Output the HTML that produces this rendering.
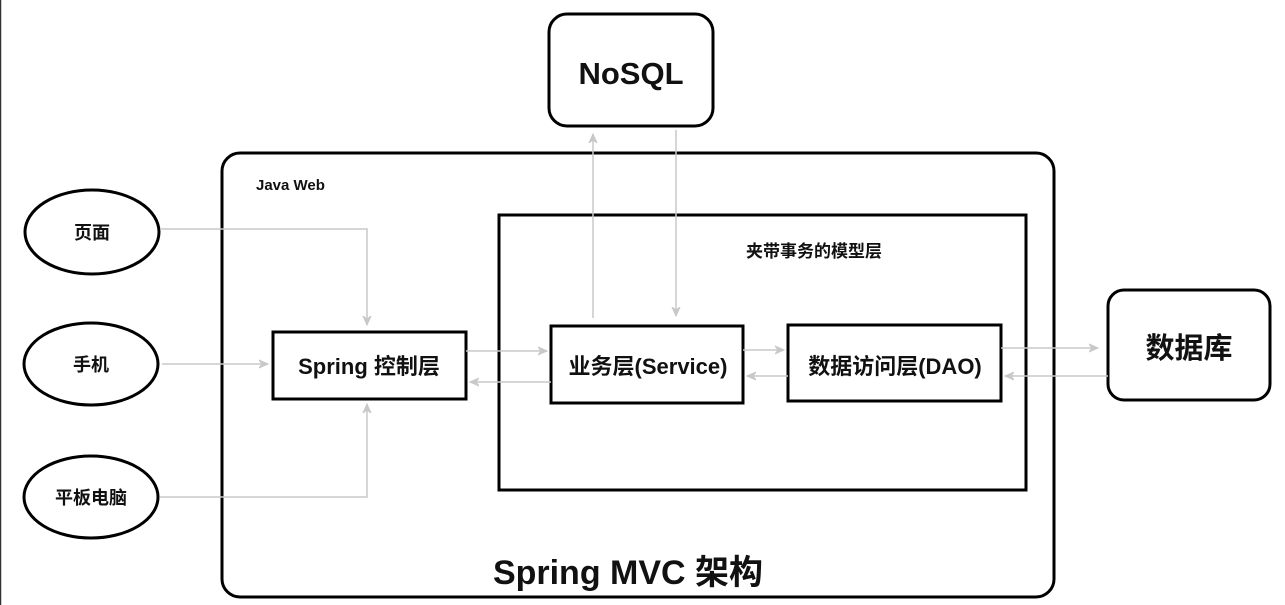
<!DOCTYPE html>
<html><head><meta charset="utf-8"><style>
html,body{margin:0;padding:0;background:#fff;}
svg{display:block;}
text{font-family:"Liberation Sans","Noto Sans CJK SC",sans-serif;font-weight:bold;fill:#111;}
</style></head><body>
<svg width="1285" height="605" viewBox="0 0 1285 605" xmlns="http://www.w3.org/2000/svg">
<defs>
<marker id="a" markerWidth="10" markerHeight="10" refX="9" refY="5" orient="auto" markerUnits="userSpaceOnUse">
<path d="M0,1 L9,5 L0,9 L3,5 Z" fill="#c8c8c8" stroke="#c8c8c8" stroke-width="1"/>
</marker>
</defs>
<line x1="0.5" y1="0" x2="0.5" y2="605" stroke="#333" stroke-width="1.5"/>
<rect x="222" y="153" width="832" height="444" rx="18" fill="none" stroke="#000" stroke-width="3"/>
<rect x="549" y="14" width="164" height="112" rx="18" fill="#fff" stroke="#000" stroke-width="3"/>
<text x="631" y="84" font-size="31" text-anchor="middle">NoSQL</text>
<rect x="499" y="215" width="527" height="275" fill="none" stroke="#000" stroke-width="3"/>
<text x="814" y="257" font-size="17" text-anchor="middle">夹带事务的模型层</text>
<text x="256" y="190" font-size="15">Java Web</text>
<ellipse cx="92" cy="232" rx="67" ry="42" fill="#fff" stroke="#000" stroke-width="3"/>
<text x="92" y="239" font-size="18" text-anchor="middle">页面</text>
<ellipse cx="91" cy="364" rx="67" ry="41" fill="#fff" stroke="#000" stroke-width="3"/>
<text x="91" y="371" font-size="18" text-anchor="middle">手机</text>
<ellipse cx="91" cy="497" rx="67" ry="41" fill="#fff" stroke="#000" stroke-width="3"/>
<text x="91" y="504" font-size="18" text-anchor="middle">平板电脑</text>
<rect x="273" y="332" width="193" height="67" fill="#fff" stroke="#000" stroke-width="3"/>
<text x="369" y="374" font-size="22" text-anchor="middle">Spring 控制层</text>
<rect x="551" y="326" width="192" height="77" fill="#fff" stroke="#000" stroke-width="3"/>
<text x="648" y="374" font-size="22" text-anchor="middle">业务层(Service)</text>
<rect x="788" y="325" width="213" height="76" fill="#fff" stroke="#000" stroke-width="3"/>
<text x="895" y="374" font-size="22" text-anchor="middle">数据访问层(DAO)</text>
<rect x="1108" y="290" width="162" height="110" rx="16" fill="#fff" stroke="#000" stroke-width="3"/>
<text x="1189" y="358" font-size="29" text-anchor="middle">数据库</text>
<text x="628" y="584" font-size="34" text-anchor="middle">Spring MVC 架构</text>
<g fill="none" stroke="#c8c8c8" stroke-width="1.5">
<polyline points="160,229 367,229 367,325" marker-end="url(#a)"/>
<line x1="162" y1="364" x2="268" y2="364" marker-end="url(#a)"/>
<polyline points="160,497 367,497 367,404" marker-end="url(#a)"/>
<line x1="466" y1="351" x2="547" y2="351" marker-end="url(#a)"/>
<line x1="551" y1="382" x2="470" y2="382" marker-end="url(#a)"/>
<line x1="743" y1="350" x2="784" y2="350" marker-end="url(#a)"/>
<line x1="788" y1="376" x2="747" y2="376" marker-end="url(#a)"/>
<line x1="1001" y1="348" x2="1098" y2="348" marker-end="url(#a)"/>
<line x1="1108" y1="376" x2="1005" y2="376" marker-end="url(#a)"/>
<line x1="593" y1="318" x2="593" y2="134" marker-end="url(#a)"/>
<line x1="676" y1="130" x2="676" y2="316" marker-end="url(#a)"/>
</g>
</svg>
</body></html>
